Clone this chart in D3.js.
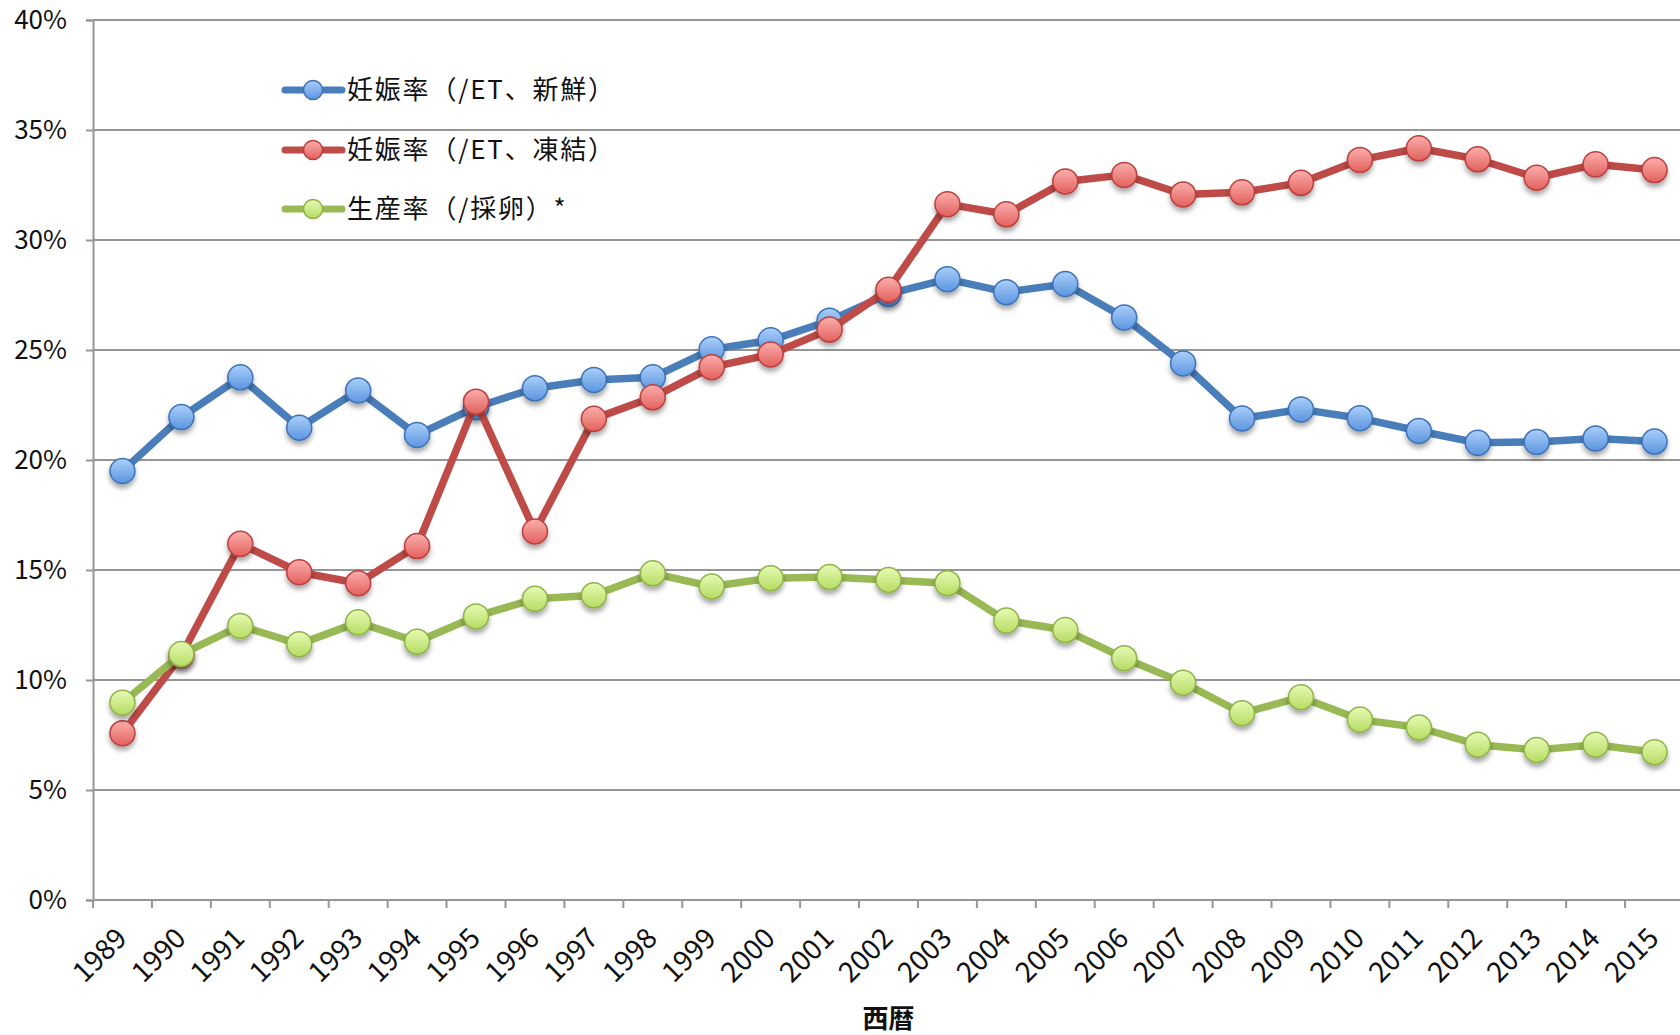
<!DOCTYPE html>
<html><head><meta charset="utf-8">
<script src="https://cdn.jsdelivr.net/npm/d3@7"></script>
<style>
html,body{margin:0;padding:0;background:#fff;overflow:hidden;}
svg{display:block;font-family:"Noto Sans CJK JP","Noto Sans",sans-serif;}
</style></head>
<body>
<svg id="chart" width="1680" height="1035"></svg>
<script>
const years = ["1989","1990","1991","1992","1993","1994","1995","1996","1997","1998","1999","2000","2001","2002","2003","2004","2005","2006","2007","2008","2009","2010","2011","2012","2013","2014","2015"];
const freshRate = [19.5,21.95,23.76,21.47,23.16,21.14,22.4,23.26,23.64,23.76,25.03,25.44,26.33,27.55,28.22,27.63,28.0,26.48,24.39,21.89,22.3,21.9,21.32,20.78,20.82,20.98,20.84];
const frozenRate = [7.58,11.12,16.19,14.9,14.4,16.09,22.65,16.75,21.87,22.85,24.22,24.8,25.93,27.74,31.63,31.17,32.66,32.96,32.07,32.17,32.6,33.64,34.17,33.67,32.83,33.44,33.18];
const birthRate = [8.97,11.18,12.46,11.63,12.62,11.74,12.89,13.69,13.85,14.85,14.25,14.63,14.68,14.55,14.4,12.7,12.27,10.99,9.88,8.49,9.22,8.2,7.84,7.06,6.82,7.06,6.72];
const seriesNames = ["妊娠率（/ET、新鮮）","妊娠率（/ET、凍結）","生産率（/採卵）*"];
const yTicks = [0,5,10,15,20,25,30,35,40];
const xTitle = "西暦";

const series = [
  {name: seriesNames[0], values: freshRate, line:"#4a7ebb", c1:"#abcffa", c2:"#5b95df", stroke:"#3d72b8"},
  {name: seriesNames[1], values: frozenRate, line:"#be4b48", c1:"#fbafad", c2:"#e2605c", stroke:"#b93f3c"},
  {name: seriesNames[2], values: birthRate, line:"#98b954", c1:"#e6fbb4", c2:"#b6db63", stroke:"#8fb247"}
];

const svg = d3.select("#chart");
const mLeft = 93, mRight = 1684, mTop = 20, mBottom = 900;
const x = d3.scaleBand().domain(years).range([mLeft, mRight]).padding(0);
const y = d3.scaleLinear().domain([0, 40]).range([mBottom, mTop]);
const grid = "#969696";

const defs = svg.append("defs");
series.forEach((s,i)=>{
  const g = defs.append("linearGradient").attr("id","grad"+i).attr("x1",0).attr("y1",0).attr("x2",0).attr("y2",1);
  g.append("stop").attr("offset","0%").attr("stop-color",s.c1);
  g.append("stop").attr("offset","100%").attr("stop-color",s.c2);
});
const f = defs.append("filter").attr("id","shadow").attr("x","-50%").attr("y","-50%").attr("width","200%").attr("height","200%");
f.append("feDropShadow").attr("dx",0).attr("dy",4).attr("stdDeviation",2.5).attr("flood-color","#000").attr("flood-opacity",0.35);

// gridlines
svg.append("g").selectAll("line").data(yTicks).join("line")
  .attr("x1", mLeft).attr("x2", 1680).attr("y1", d=>y(d)).attr("y2", d=>y(d))
  .attr("stroke", grid).attr("stroke-width", 2);

// y axis
const yAxis = svg.append("g").attr("transform",`translate(${mLeft},0)`)
  .call(d3.axisLeft(y).tickValues(yTicks).tickSize(7).tickPadding(19).tickFormat(d=>d+"%"));
yAxis.select(".domain").attr("stroke",grid).attr("stroke-width",2);
yAxis.selectAll(".tick line").attr("stroke",grid).attr("stroke-width",2);
yAxis.selectAll(".tick text").attr("font-size",26).attr("fill","#111").attr("font-family","'Noto Sans CJK JP',sans-serif");

// x axis
const xAxis = svg.append("g").attr("transform",`translate(0,${mBottom})`)
  .call(d3.axisBottom(x).tickSize(0).tickFormat(""));
xAxis.select(".domain").remove();
xAxis.selectAll(".tick line").remove();
const bounds = years.map(d=>x(d)).concat([mRight]);
svg.append("g").selectAll("line").data(bounds).join("line")
  .attr("x1",d=>d).attr("x2",d=>d).attr("y1",mBottom).attr("y2",mBottom+8)
  .attr("stroke",grid).attr("stroke-width",2);
svg.append("line").attr("x1",mLeft).attr("x2",1680).attr("y1",mBottom).attr("y2",mBottom).attr("stroke",grid).attr("stroke-width",2);
svg.append("g").selectAll("text").data(years).join("text")
  .attr("transform", d=>`translate(${x(d)+x.bandwidth()/2+6},${mBottom+40}) rotate(-45)`)
  .attr("text-anchor","end").attr("font-size",28).attr("fill","#111")
  .text(d=>d);

svg.append("text").attr("x",(mLeft+mRight)/2).attr("y",1028).attr("text-anchor","middle")
  .attr("font-size",26).attr("font-weight","bold").attr("fill","#111").text(xTitle);

// series
const line = d3.line().x((d,i)=>x(years[i])+x.bandwidth()/2).y(d=>y(d));
series.forEach((s,i)=>{
  const g = svg.append("g");
  g.append("path").attr("d", line(s.values)).attr("fill","none").attr("stroke",s.line)
    .attr("stroke-width",7.5).attr("stroke-linejoin","round").attr("stroke-linecap","round");
  g.append("g").attr("filter","url(#shadow)").selectAll("circle").data(s.values).join("circle")
    .attr("cx",(d,j)=>x(years[j])+x.bandwidth()/2).attr("cy",d=>y(d)).attr("r",12.5)
    .attr("fill",`url(#grad${i})`).attr("stroke",s.stroke).attr("stroke-width",1.5);
});

// legend
const legY = [90, 150, 209];
series.forEach((s,i)=>{
  const g = svg.append("g").attr("transform",`translate(0,${legY[i]})`);
  g.append("line").attr("x1",285).attr("x2",342).attr("y1",0).attr("y2",0)
    .attr("stroke",s.line).attr("stroke-width",7).attr("stroke-linecap","round");
  g.append("circle").attr("cx",313).attr("cy",0).attr("r",9.5)
    .attr("fill",`url(#grad${i})`).attr("stroke",s.stroke).attr("stroke-width",1.5);
  g.append("text").attr("x",347).attr("y",0).attr("dy","0.36em").attr("font-size",26)
    .attr("letter-spacing","1.8px").attr("fill","#111").text(s.name);
});
</script>
</body></html>
